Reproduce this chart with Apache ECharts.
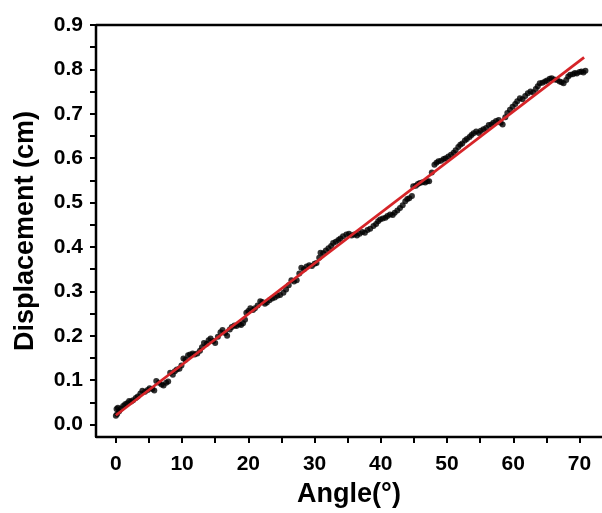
<!DOCTYPE html>
<html>
<head>
<meta charset="utf-8">
<script src="https://cdn.jsdelivr.net/npm/echarts@6/dist/echarts.min.js"></script>
<style>html,body{margin:0;padding:0;background:#fff}#c{width:602px;height:513px}</style>
</head>
<body>
<div id="c"></div>
<script>
// Measured points: [angle (deg), displacement (cm)]
const points = [
[0,0.020],[0.1,0.035],[0.2,0.024],[0.3,0.038],[0.5,0.030],[0.8,0.036],[1.1,0.042],[1.4,0.046],[1.7,0.048],[2.0,0.053],
[2.3,0.052],[2.6,0.055],[3.0,0.060],[3.3,0.063],[3.7,0.070],[4.0,0.076],[4.4,0.074],[4.8,0.078],[5.1,0.082],[5.5,0.080],
[5.8,0.077],[6.1,0.098],[6.5,0.094],[6.9,0.090],[7.2,0.088],[7.6,0.094],[7.9,0.097],[8.2,0.117],[8.6,0.112],[8.9,0.120],
[9.2,0.124],[9.6,0.126],[9.9,0.133],
[10.2,0.149],[10.5,0.146],[10.9,0.156],[11.2,0.158],[11.6,0.160],[11.9,0.158],[12.3,0.160],[12.7,0.166],[13.0,0.174],[13.3,0.184],
[13.7,0.182],[14.0,0.190],[14.3,0.194],[14.7,0.188],[15.0,0.184],[15.4,0.198],[15.8,0.208],[16.1,0.213],[16.5,0.206],[16.8,0.200],
[17.2,0.214],[17.5,0.220],[17.9,0.223],[18.2,0.222],[18.6,0.226],[18.9,0.224],[19.2,0.228],[19.5,0.236],[19.7,0.252],[20.0,0.256],
[20.3,0.262],[20.7,0.258],[21.0,0.262],[21.4,0.268],[21.8,0.278],[22.1,0.276],[22.5,0.272],[22.8,0.275],[23.2,0.280],[23.6,0.284],
[24.0,0.286],[24.4,0.290],[24.8,0.292],[25.3,0.297],[25.7,0.304],[26.1,0.314],[26.5,0.325],[26.9,0.322],[27.3,0.325],[27.7,0.340],
[28.0,0.353],[28.4,0.350],[28.8,0.356],[29.2,0.359],[29.6,0.357],[30.0,0.362],[30.3,0.364],
[30.7,0.376],[30.9,0.387],[31.3,0.386],[31.7,0.392],[32.1,0.397],[32.5,0.402],[32.8,0.409],[33.2,0.412],[33.6,0.416],[33.9,0.419],
[34.3,0.424],[34.8,0.428],[35.2,0.430],[35.6,0.426],[36.0,0.428],[36.4,0.426],[36.8,0.430],[37.2,0.434],[37.6,0.432],[38.0,0.438],
[38.4,0.441],[38.9,0.447],[39.3,0.452],[39.6,0.458],[39.9,0.462],
[40.3,0.464],[40.7,0.466],[41.0,0.470],[41.4,0.473],[41.8,0.472],[42.1,0.477],[42.5,0.482],[42.9,0.488],[43.3,0.494],[43.7,0.503],
[44.0,0.508],[44.3,0.510],[44.7,0.515],[44.9,0.537],[45.3,0.538],[45.6,0.542],[45.9,0.544],[46.3,0.546],[46.7,0.545],[47.0,0.548],
[47.3,0.548],[47.7,0.568],[48.1,0.585],[48.4,0.590],[48.7,0.593],[49.1,0.594],[49.5,0.598],[49.8,0.600],
[50.2,0.604],[50.6,0.608],[51.0,0.612],[51.3,0.618],[51.7,0.625],[52.0,0.630],[52.3,0.633],[52.7,0.640],[53.0,0.643],[53.4,0.648],
[53.7,0.652],[54.0,0.656],[54.4,0.660],[54.8,0.657],[55.1,0.662],[55.5,0.665],[55.9,0.668],[56.3,0.675],[56.7,0.676],[57.0,0.680],
[57.4,0.684],[57.8,0.686],[58.1,0.680],[58.4,0.676],[58.8,0.692],[59.1,0.702],[59.5,0.709],[59.9,0.716],
[60.3,0.722],[60.6,0.728],[61.0,0.735],[61.4,0.733],[61.8,0.740],[62.2,0.746],[62.6,0.750],[63.0,0.748],[63.4,0.756],[63.7,0.762],
[64.0,0.769],[64.4,0.770],[64.8,0.773],[65.1,0.775],[65.5,0.779],[65.8,0.780],[66.2,0.777],[66.6,0.776],[67.0,0.773],[67.3,0.771],
[67.6,0.769],[68.0,0.776],[68.3,0.784],[68.6,0.788],[69.0,0.789],[69.3,0.792],[69.6,0.791],[70.0,0.794],[70.3,0.795],[70.6,0.793],
[70.9,0.797]
];
// Linear fit line end points
const fitX = [0, 70.7];
const fitY = [0.021, 0.827];

const xMajor = [0, 10, 20, 30, 40, 50, 60, 70];
const xMinor = [5, 15, 25, 35, 45, 55, 65];
const yMajor = [0, 0.1, 0.2, 0.3, 0.4, 0.5, 0.6, 0.7, 0.8, 0.9];
const yMinor = [0.05, 0.15, 0.25, 0.35, 0.45, 0.55, 0.65, 0.75, 0.85];

const xName = 'Angle(°)';
const yName = 'Displacement (cm)';

const FONT = 'Liberation Sans, Arial, sans-serif';
const X_MIN = -3, X_MAX = 73.4, Y_MIN = -0.028, Y_MAX = 0.9;

// Plot frame (top, left, bottom) traced along the axis limits
const frame = [[X_MAX, Y_MAX], [X_MIN, Y_MAX], [X_MIN, Y_MIN], [X_MAX, Y_MIN]];

const chart = echarts.init(document.getElementById('c'));
chart.setOption({
  animation: false,
  grid: {left: 96, right: 0, top: 25, bottom: 75, containLabel: false},
  xAxis: [
    {
      type: 'value', position: 'bottom', min: X_MIN, max: X_MAX,
      name: xName, nameLocation: 'middle', nameGap: 44,
      nameTextStyle: {fontFamily: FONT, fontWeight: 'bold', fontSize: 27, color: '#000'},
      axisLine: {show: true, onZero: false, lineStyle: {color: '#000', width: 2}},
      axisTick: {show: true, inside: false, length: 6, lineStyle: {color: '#000', width: 2},
        customValues: xMajor.concat(xMinor)},
      axisLabel: {show: true, margin: 17, fontFamily: FONT, fontWeight: 'bold', fontSize: 21, color: '#000', customValues: xMajor},
      splitLine: {show: false}
    }
  ],
  yAxis: [
    {
      type: 'value', position: 'left', min: Y_MIN, max: Y_MAX,
      name: yName, nameLocation: 'middle', nameGap: 57, nameRotate: 90,
      nameTextStyle: {fontFamily: FONT, fontWeight: 'bold', fontSize: 27, color: '#000'},
      axisLine: {show: true, onZero: false, lineStyle: {color: '#000', width: 2}},
      axisTick: {show: true, inside: false, length: 6, lineStyle: {color: '#000', width: 2},
        customValues: yMajor.concat(yMinor)},
      axisLabel: {show: true, margin: 13, fontFamily: FONT, fontWeight: 'bold', fontSize: 21, color: '#000', customValues: yMajor,
        formatter: v => v.toFixed(1)},
      splitLine: {show: false}
    }
  ],
  series: [
    {
      type: 'scatter', xAxisIndex: 0, yAxisIndex: 0,
      data: points, symbol: 'circle', symbolSize: 6,
      itemStyle: {color: '#000'}, z: 2
    },
    {
      type: 'line', xAxisIndex: 0, yAxisIndex: 0,
      data: fitX.map((x, i) => [x, fitY[i]]),
      showSymbol: false, symbol: 'none',
      lineStyle: {color: '#d62428', width: 2.8}, z: 3
    },
    {
      type: 'line', xAxisIndex: 0, yAxisIndex: 0, name: 'frame',
      data: frame, showSymbol: false, symbol: 'none', clip: false, silent: true,
      lineStyle: {color: '#000', width: 2.5}, z: 10
    }
  ]
});
</script>
</body>
</html>
